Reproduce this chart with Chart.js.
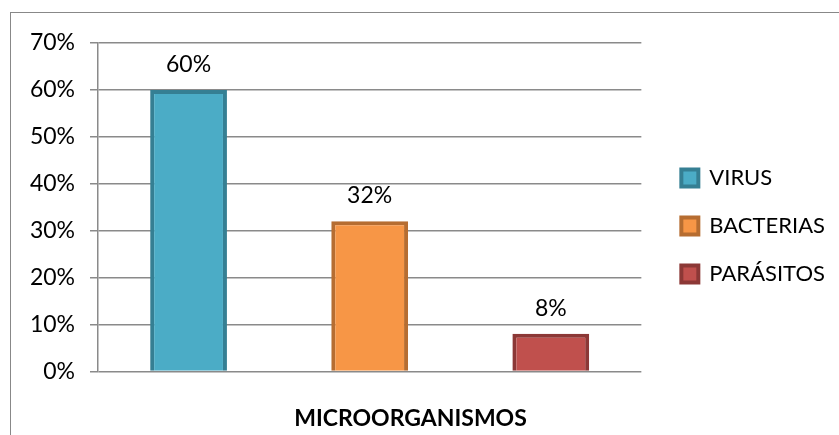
<!DOCTYPE html>
<html>
<head>
<meta charset="utf-8">
<script src="https://cdn.jsdelivr.net/npm/chart.js@4.4.1/dist/chart.umd.min.js"></script>
<style>
  html, body { margin: 0; padding: 0; background: #fff; }
  #wrap { position: relative; width: 839px; height: 435px; overflow: hidden; }
  #frame { position: absolute; left: 10px; top: 12px; width: 860px; height: 460px;
           border: 1.5px solid #888; box-sizing: border-box; }
  #c { position: absolute; left: 0; top: 0; }
</style>
</head>
<body>
<div id="wrap">
  <div id="frame"></div>
  <canvas id="c" width="839" height="435"></canvas>
</div>
<script>
// Share of samples by type of microorganism (percent)
const categories = ['MICROORGANISMOS'];
const seriesNames = ['VIRUS', 'BACTERIAS', 'PARÁSITOS'];
const virusValues = [60];
const bacteriasValues = [32];
const parasitosValues = [8];
const yTicks = [0, 10, 20, 30, 40, 50, 60, 70];
const xAxisTitle = 'MICROORGANISMOS';

const fillColors = ['#4BACC6', '#F79646', '#C0504D'];
const edgeColors = ['#357F93', '#B66D31', '#8C3836'];
const FONT = 'Lato, "Open Sans", sans-serif';
const FONT_SIZE = 23;
const LEGEND_FONT_SIZE = 22;

const seriesValues = [virusValues, bacteriasValues, parasitosValues];

// Percent labels above each bar
const valueLabels = {
  id: 'valueLabels',
  afterDatasetsDraw(chart) {
    const ctx = chart.ctx;
    ctx.save();
    ctx.font = FONT_SIZE + 'px ' + FONT;
    ctx.fillStyle = '#000';
    ctx.textAlign = 'center';
    ctx.textBaseline = 'alphabetic';
    chart.data.datasets.forEach((ds, i) => {
      chart.getDatasetMeta(i).data.forEach((bar, j) => {
        ctx.fillText(ds.data[j] + '%', bar.x, bar.y - 18);
      });
    });
    ctx.restore();
  }
};

// Nudge the legend block into its spot beside the plot
const legendShift = {
  id: 'legendShift',
  afterLayout(chart) {
    const lg = chart.legend;
    if (!lg) return;
    const dx = 14, dy = -13;
    lg.left += dx; lg.right += dx;
    lg.top += dy; lg.bottom += dy;
  }
};

new Chart(document.getElementById('c'), {
  type: 'bar',
  data: {
    labels: categories,
    datasets: seriesNames.map((name, i) => ({
      label: name,
      data: seriesValues[i],
      backgroundColor: fillColors[i],
      borderColor: edgeColors[i],
      borderWidth: 4,
      barPercentage: 0.424,
      categoryPercentage: 1
    }))
  },
  options: {
    responsive: false,
    animation: false,
    events: [],
    layout: { padding: { left: 0, top: 43, right: 18, bottom: 0 } },
    scales: {
      x: {
        grid: { display: false, drawTicks: false },
        border: { display: false },
        ticks: { display: false }
      },
      y: {
        min: yTicks[0],
        max: yTicks[yTicks.length - 1],
        afterBuildTicks(scale) { scale.ticks = yTicks.map(v => ({ value: v })); },
        afterFit(scale) { scale.width = 98; },
        ticks: {
          color: '#000',
          padding: 15,
          font: { family: FONT, size: FONT_SIZE },
          callback: v => v + '%'
        },
        grid: { color: '#8a8a8a', lineWidth: 1.5, tickLength: 8 },
        border: { color: '#8a8a8a', width: 1.5 }
      }
    },
    plugins: {
      title: {
        display: true,
        position: 'bottom',
        text: xAxisTitle,
        color: '#000',
        font: { family: FONT, size: FONT_SIZE, weight: 'bold' },
        padding: { top: 33, bottom: 3 }
      },
      legend: {
        position: 'right',
        labels: {
          color: '#000',
          font: { family: FONT, size: LEGEND_FONT_SIZE },
          boxWidth: 17,
          boxHeight: 17,
          padding: 26
        }
      },
      tooltip: { enabled: false }
    }
  },
  plugins: [valueLabels, legendShift]
});
</script>
</body>
</html>
